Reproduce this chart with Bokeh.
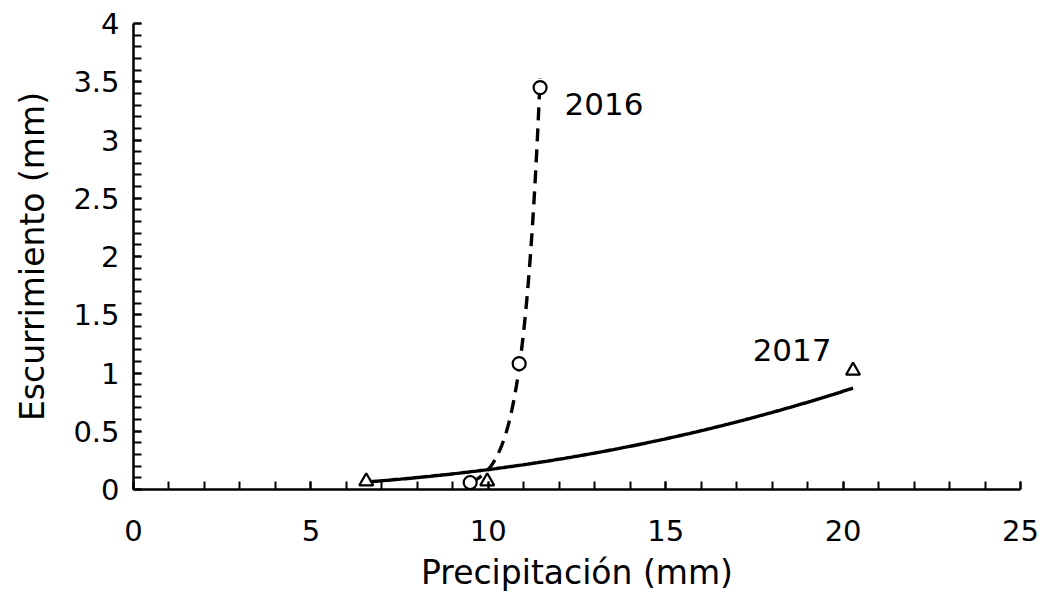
import numpy as np
from bokeh.plotting import figure
from bokeh.models import SingleIntervalTicker, Label
from bokeh.embed import file_html
from bokeh.resources import INLINE

# Data
x_2016 = [9.49, 10.87, 11.46]
y_2016 = [0.06, 1.08, 3.45]
x_2017 = [6.56, 9.97, 20.28]
y_2017 = [0.07, 0.07, 1.02]
series_labels = ["2016", "2017"]

# Trendline models as drawn in the chart
# 2016: exponential trend fitted to the 2016 points
# 2017: power trend y = a * x^c
trend_2017_a = 0.000858
trend_2017_c = 2.3

FONT = "DejaVu Sans"

p = figure(frame_width=887, frame_height=466, x_range=(0, 25), y_range=(0, 4),
           min_border_left=133, min_border_right=21, min_border_top=23, min_border_bottom=103,
           output_backend="svg", toolbar_location=None, background_fill_color="white",
           border_fill_color="white")
p.outline_line_color = None
p.grid.visible = False

# 2016 exponential trendline from data
b16, ln_a16 = np.polyfit(np.array(x_2016), np.log(np.array(y_2016)), 1)
tx16 = np.linspace(min(x_2016), max(x_2016), 200)
ty16 = np.exp(ln_a16 + b16 * tx16)

# 2017 power trendline
tx17 = np.linspace(min(x_2017), max(x_2017), 200)
ty17 = trend_2017_a * tx17 ** trend_2017_c

p.line(tx17, ty17, line_color="black", line_width=3.4)
p.line(tx16, ty16, line_color="black", line_width=3.4, line_dash="13 8")

p.scatter(x_2016, y_2016, marker="circle", size=13, fill_color="white",
          line_color="black", line_width=2.2)
p.scatter(x_2017, y_2017, marker="triangle", size=14, fill_color="white",
          line_color="black", line_width=2.2)

p.add_layout(Label(x=12.15, y=3.31, text=series_labels[0], text_font=FONT,
                   text_font_size="31px", text_baseline="middle", text_color="black"))
p.add_layout(Label(x=17.45, y=1.2, text=series_labels[1], text_font=FONT,
                   text_font_size="31px", text_baseline="middle", text_color="black"))

for ax in (p.xaxis[0], p.yaxis[0]):
    ax.axis_line_width = 2.5
    ax.axis_line_color = "black"
    ax.major_tick_line_width = 2
    ax.minor_tick_line_width = 2
    ax.major_tick_line_color = "black"
    ax.minor_tick_line_color = "black"
    ax.major_tick_in = 8
    ax.major_tick_out = 0
    ax.minor_tick_in = 8
    ax.minor_tick_out = 0
    ax.major_label_text_font = FONT
    ax.major_label_text_font_size = "29px"
    ax.major_label_text_color = "black"
    ax.axis_label_text_font = FONT
    ax.axis_label_text_font_size = "33px"
    ax.axis_label_text_font_style = "normal"
    ax.axis_label_text_color = "black"

p.xaxis.ticker = SingleIntervalTicker(interval=5, num_minor_ticks=5)
p.yaxis.ticker = SingleIntervalTicker(interval=0.5, num_minor_ticks=5)
p.xaxis.axis_label = "Precipitación (mm)"
p.yaxis.axis_label = "Escurrimiento (mm)"
p.xaxis.major_label_standoff = 30
p.yaxis.major_label_standoff = 14
p.xaxis.axis_label_standoff = 9
p.yaxis.axis_label_standoff = 18

open("out.html", "w").write(file_html(p, INLINE))
